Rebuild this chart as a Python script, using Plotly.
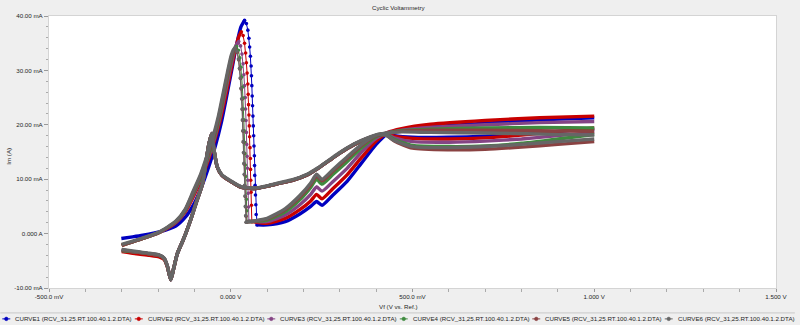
import plotly.graph_objects as go

# ---------------- data ----------------
names = [
    "CURVE1 (RCV_31,25.RT.100.40.1.2.DTA)",
    "CURVE2 (RCV_31,25.RT.100.40.1.2.DTA)",
    "CURVE3 (RCV_31,25.RT.100.40.1.2.DTA)",
    "CURVE4 (RCV_31,25.RT.100.40.1.2.DTA)",
    "CURVE5 (RCV_31,25.RT.100.40.1.2.DTA)",
    "CURVE6 (RCV_31,25.RT.100.40.1.2.DTA)",
]
colors = ["#0000C0", "#C80000", "#844484", "#3F8A3F", "#8A4242", "#666666"]

x_tickvals = [-0.5, 0.0, 0.5, 1.0, 1.5]
x_ticktext = ["-500.0 mV", "0.000 V", "500.0 mV", "1.000 V", "1.500 V"]
y_tickvals = [-10, 0, 10, 20, 30, 40]
y_ticktext = ["-10.00 mA", "0.000 A", "10.00 mA", "20.00 mA", "30.00 mA", "40.00 mA"]

# forward scan, rising to the active peak (V, mA)
rise_v = [
    [-0.301, -0.270, -0.242, -0.197, -0.151, -0.125, -0.100, -0.078, -0.060, -0.042, -0.026, -0.012, 0.003, 0.017, 0.028, 0.038],
    [-0.300, -0.270, -0.242, -0.197, -0.151, -0.125, -0.100, -0.080, -0.062, -0.045, -0.030, -0.015, 0.000, 0.012, 0.022, 0.029],
    [-0.300, -0.270, -0.242, -0.197, -0.151, -0.125, -0.101, -0.080, -0.062, -0.045, -0.031, -0.017, -0.004, 0.008, 0.016, 0.022],
    [-0.300, -0.270, -0.242, -0.197, -0.151, -0.125, -0.102, -0.081, -0.063, -0.046, -0.032, -0.019, -0.007, 0.004, 0.011, 0.016],
    [-0.300, -0.270, -0.242, -0.197, -0.151, -0.125, -0.103, -0.082, -0.064, -0.047, -0.033, -0.020, -0.008, 0.002, 0.008, 0.013],
    [-0.300, -0.270, -0.242, -0.197, -0.151, -0.125, -0.104, -0.083, -0.065, -0.048, -0.034, -0.021, -0.009, 0.001, 0.007, 0.012],
]
rise_i = [
    [-0.9, -0.6, -0.3, 0.3, 1.4, 3.0, 5.6, 9.0, 12.4, 16.2, 20.4, 25.0, 30.2, 35.0, 38.0, 39.2],
    [-2.2, -1.5, -0.9, 0.2, 2.0, 4.0, 7.2, 10.2, 13.4, 17.0, 20.6, 25.0, 29.8, 33.6, 36.2, 37.1],
    [-2.1, -1.5, -0.9, 0.2, 2.1, 4.2, 7.4, 10.5, 13.8, 17.4, 21.0, 25.3, 29.5, 33.0, 34.8, 35.3],
    [-2.1, -1.5, -0.9, 0.2, 2.2, 4.3, 7.5, 10.6, 14.0, 17.6, 21.2, 25.4, 29.4, 32.6, 34.0, 34.4],
    [-2.1, -1.5, -0.9, 0.2, 2.2, 4.4, 7.6, 10.8, 14.2, 17.8, 21.4, 25.6, 29.5, 32.5, 33.6, 34.0],
    [-2.0, -1.4, -0.8, 0.3, 2.3, 4.5, 7.7, 10.9, 14.4, 18.0, 21.6, 25.8, 29.7, 32.7, 33.8, 34.2],
]

# passivation drop (sparse, dotted samples)
drop_v = [
    [0.038, 0.043, 0.047, 0.050, 0.052, 0.054, 0.056, 0.057, 0.058, 0.059, 0.060, 0.061, 0.062, 0.063, 0.064, 0.065, 0.0655, 0.066, 0.067, 0.068, 0.069, 0.070, 0.072],
    [0.029, 0.034, 0.038, 0.041, 0.043, 0.045, 0.047, 0.048, 0.049, 0.050, 0.051, 0.052, 0.053, 0.054, 0.0545, 0.055, 0.056, 0.057, 0.058],
    [0.022, 0.027, 0.031, 0.034, 0.036, 0.038, 0.040, 0.041, 0.042, 0.043, 0.044, 0.045, 0.046, 0.047, 0.048, 0.049, 0.050],
    [0.016, 0.021, 0.025, 0.028, 0.030, 0.032, 0.034, 0.035, 0.036, 0.037, 0.038, 0.039, 0.040, 0.041, 0.042, 0.043, 0.044, 0.045],
    [0.013, 0.018, 0.022, 0.025, 0.027, 0.029, 0.031, 0.032, 0.033, 0.034, 0.035, 0.036, 0.037, 0.038, 0.039, 0.040, 0.041, 0.042, 0.043],
    [0.012, 0.017, 0.021, 0.024, 0.026, 0.028, 0.030, 0.031, 0.032, 0.033, 0.034, 0.035, 0.036, 0.037, 0.038, 0.039, 0.040, 0.041, 0.042],
]
drop_i = [
    [39.2, 38.6, 37.4, 35.9, 34.3, 32.6, 30.8, 29.0, 27.2, 25.3, 23.5, 21.6, 19.8, 18.0, 16.1, 14.3, 12.5, 10.7, 8.9, 7.1, 5.3, 3.5, 1.6],
    [37.1, 36.4, 35.0, 33.2, 31.4, 29.5, 27.5, 25.6, 23.7, 21.8, 19.8, 17.8, 15.8, 13.8, 11.8, 9.8, 7.6, 5.2, 2.2],
    [35.3, 34.5, 33.0, 31.2, 29.2, 27.2, 25.0, 22.9, 20.8, 18.6, 16.4, 14.2, 12.0, 9.8, 7.4, 4.9, 2.3],
    [34.4, 33.7, 32.3, 30.6, 28.8, 26.9, 24.9, 22.9, 20.9, 18.9, 16.8, 14.7, 12.6, 10.5, 8.4, 6.3, 4.2, 2.2],
    [34.0, 33.3, 31.9, 30.2, 28.5, 26.6, 24.7, 22.8, 20.8, 18.8, 16.8, 14.8, 12.8, 10.8, 8.8, 6.8, 4.9, 3.2, 2.1],
    [34.2, 33.5, 32.1, 30.4, 28.6, 26.7, 24.8, 22.9, 20.9, 18.9, 16.9, 14.9, 12.9, 10.9, 8.9, 6.9, 5.0, 3.3, 2.1],
]

# forward scan after passivation, up to the crossing point
fwd_v = [0.10, 0.15, 0.19, 0.22, 0.236, 0.251, 0.28, 0.32, 0.36, 0.40, 0.432]
fwd_i = [
    [1.6, 2.2, 3.6, 5.0, 5.9, 5.2, 7.0, 9.6, 13.0, 16.4, 18.4],
    [1.9, 2.8, 4.4, 6.0, 7.2, 6.4, 8.2, 10.8, 14.0, 17.0, 18.6],
    [2.2, 3.4, 5.3, 7.2, 8.6, 7.8, 9.5, 12.0, 15.0, 17.5, 18.6],
    [2.5, 4.0, 6.2, 8.5, 10.0, 9.1, 10.8, 13.2, 15.8, 17.8, 18.5],
    [2.7, 4.4, 6.7, 9.0, 10.6, 9.7, 11.4, 13.8, 16.2, 18.0, 18.5],
    [2.8, 4.6, 7.0, 9.3, 10.9, 10.0, 11.7, 14.1, 16.4, 18.1, 18.5],
]

# passive region, forward branch (ends at the vertex, 1.0 V)
pas_fwd_v = [0.47, 0.55, 0.70, 0.85, 1.00]
pas_fwd_i = [
    [19.0, 19.6, 20.3, 20.9, 21.3],
    [19.3, 20.1, 20.8, 21.3, 21.6],
    [19.0, 19.5, 20.0, 20.4, 20.6],
    [18.9, 19.2, 19.4, 19.5, 19.4],
    [18.8, 19.0, 19.0, 18.9, 18.8],
    [18.7, 18.6, 18.5, 18.3, 18.1],
]

# passive region, reverse branch (starts at the vertex, 1.0 V)
pas_rev_v = [1.00, 0.90, 0.80, 0.70, 0.60, 0.50, 0.45, 0.43]
pas_rev_i = [
    [19.2, 18.8, 18.3, 17.9, 17.7, 17.7, 18.0, 18.3],
    [19.4, 18.8, 18.1, 17.6, 17.4, 17.5, 17.9, 18.3],
    [18.6, 18.0, 17.4, 17.0, 16.8, 16.9, 17.6, 18.2],
    [18.2, 17.4, 16.6, 16.1, 16.0, 16.2, 17.3, 18.1],
    [16.9, 16.4, 15.9, 15.5, 15.4, 15.7, 17.0, 18.0],
    [17.4, 16.9, 16.4, 16.0, 15.8, 16.0, 17.1, 18.0],
]

# reverse scan back to the start potential (curves overlap here)
rev_v = [0.41, 0.38, 0.34, 0.30, 0.27, 0.24, 0.21, 0.17, 0.13, 0.10, 0.068, 0.03, 0.00,
         -0.024, -0.037, -0.046, -0.052, -0.060, -0.069, -0.078, -0.096, -0.110, -0.124,
         -0.133, -0.147, -0.156, -0.165, -0.174, -0.183, -0.197, -0.224, -0.260, -0.300]
rev_i = [
    [18.2, 17.6, 16.4, 14.8, 13.4, 12.0, 10.8, 9.8, 9.2, 8.7, 8.3, 8.5, 9.6, 10.7, 12.2, 15.3, 18.4, 16.5, 12.8, 9.1, 5.5, 2.6, 0.0, -1.5, -3.7, -6.1, -8.5, -6.1, -4.6, -4.0, -3.7, -3.4, -3.0],
    [18.2, 17.6, 16.4, 14.8, 13.4, 12.0, 10.8, 9.8, 9.2, 8.7, 8.3, 8.5, 9.6, 10.7, 12.2, 15.3, 18.4, 16.5, 12.8, 9.1, 5.5, 2.6, 0.0, -1.5, -3.7, -6.1, -8.5, -6.2, -4.8, -4.3, -4.0, -3.7, -3.3],
    [18.2, 17.6, 16.4, 14.8, 13.4, 12.0, 10.8, 9.8, 9.2, 8.7, 8.3, 8.5, 9.6, 10.7, 12.2, 15.3, 18.4, 16.5, 12.8, 9.1, 5.5, 2.6, 0.0, -1.5, -3.7, -6.1, -8.5, -6.1, -4.6, -4.0, -3.7, -3.4, -3.1],
    [18.2, 17.6, 16.4, 14.8, 13.4, 12.0, 10.8, 9.8, 9.2, 8.7, 8.3, 8.5, 9.6, 10.7, 12.2, 15.3, 18.4, 16.5, 12.8, 9.1, 5.5, 2.6, 0.0, -1.5, -3.7, -6.1, -8.5, -6.1, -4.6, -4.0, -3.7, -3.4, -3.1],
    [18.2, 17.6, 16.4, 14.8, 13.4, 12.0, 10.8, 9.8, 9.2, 8.7, 8.3, 8.5, 9.6, 10.7, 12.2, 15.3, 18.4, 16.5, 12.8, 9.1, 5.5, 2.6, 0.0, -1.5, -3.7, -6.1, -8.5, -6.1, -4.6, -4.0, -3.7, -3.4, -3.0],
    [18.3, 17.7, 16.5, 14.9, 13.5, 12.1, 10.9, 9.9, 9.3, 8.8, 8.4, 8.6, 9.7, 10.8, 12.3, 15.4, 18.4, 16.5, 12.8, 9.1, 5.5, 2.6, 0.0, -1.5, -3.7, -6.1, -8.5, -6.0, -4.5, -3.9, -3.6, -3.3, -2.9],
]

# ---------------- layout geometry (pixels) ----------------
W, H = 800, 325
PL, PR, PT, PB = 49, 781, 15, 288   # plot area edges


def pxx(p):
    return (p - PL) / (PR - PL)


def pxy(p):
    return (PB - p) / (PB - PT)


FONT = "Liberation Sans, Arial, sans-serif"
TXT = "#262626"
FS = 6.2

fig = go.Figure()


def add_line(xs, ys, k):
    fig.add_trace(go.Scatter(
        x=xs, y=ys, mode="lines", name=names[k], legendgroup=names[k],
        showlegend=False, hoverinfo="skip",
        line=dict(color=colors[k], width=3.4, shape="spline", smoothing=0.6)))


for k in range(6):
    c = colors[k]
    add_line(rise_v[k], rise_i[k], k)
    fig.add_trace(go.Scatter(
        x=drop_v[k], y=drop_i[k], mode="lines+markers", name=names[k], legendgroup=names[k],
        showlegend=False, hoverinfo="skip",
        line=dict(color=c, width=1), marker=dict(color=c, size=3.6)))
    add_line([drop_v[k][-1]] + fwd_v + pas_fwd_v,
             [drop_i[k][-1]] + fwd_i[k] + pas_fwd_i[k], k)
    add_line(pas_rev_v + rev_v, pas_rev_i[k] + rev_i[k], k)

shapes = []
annotations = []

# legend separator
shapes.append(dict(type="line", xref="paper", yref="paper",
                   x0=pxx(0), x1=pxx(W), y0=pxy(313), y1=pxy(313),
                   line=dict(color="#c8c8c8", width=1)))
# legend entries
LEG_Y = 319
for k in range(6):
    cx = 6 + 133.4 * k
    shapes.append(dict(type="line", xref="paper", yref="paper",
                       x0=pxx(cx - 4), x1=pxx(cx + 4), y0=pxy(LEG_Y), y1=pxy(LEG_Y),
                       line=dict(color=colors[k], width=1)))
    shapes.append(dict(type="circle", xref="paper", yref="paper",
                       x0=pxx(cx - 1.8), x1=pxx(cx + 1.8), y0=pxy(LEG_Y + 1.8), y1=pxy(LEG_Y - 1.8),
                       fillcolor=colors[k], line=dict(color=colors[k], width=0.5)))
    annotations.append(dict(text=names[k], xref="paper", yref="paper",
                            x=pxx(cx + 7), y=pxy(LEG_Y), xanchor="left", yanchor="middle",
                            showarrow=False, font=dict(family=FONT, size=FS, color=TXT)))

# title and axis titles
annotations.append(dict(text="Cyclic Voltammetry", xref="paper", yref="paper",
                        x=pxx(401), y=pxy(6.5), xanchor="center", yanchor="middle",
                        showarrow=False, font=dict(family=FONT, size=FS, color=TXT)))
annotations.append(dict(text="Vf (V vs. Ref.)", xref="paper", yref="paper",
                        x=pxx(401), y=pxy(307), xanchor="center", yanchor="middle",
                        showarrow=False, font=dict(family=FONT, size=FS, color=TXT)))
annotations.append(dict(text="Im (A)", xref="paper", yref="paper", textangle=-90,
                        x=pxx(8), y=pxy(156), xanchor="center", yanchor="middle",
                        showarrow=False, font=dict(family=FONT, size=FS, color=TXT)))

fig.update_layout(
    width=W, height=H,
    margin=dict(l=PL, r=W - PR, t=PT, b=H - PB, pad=0),
    paper_bgcolor="#efefef", plot_bgcolor="#ffffff",
    showlegend=False,
    font=dict(family=FONT, size=FS, color=TXT),
    shapes=shapes, annotations=annotations,
    xaxis=dict(range=[-0.5, 1.5], tickmode="array", tickvals=x_tickvals, ticktext=x_ticktext,
               ticks="outside", ticklen=3, tickcolor="#999999", tickwidth=1,
               minor=dict(tickmode="linear", tick0=-0.5, dtick=0.1, ticks="outside",
                          ticklen=3, tickcolor="#aaaaaa", showgrid=False),
               showgrid=False, zeroline=False, showline=True, linecolor="#d4d4d4", mirror=True,
               tickfont=dict(family=FONT, size=FS, color=TXT)),
    yaxis=dict(range=[-10, 40], tickmode="array", tickvals=y_tickvals, ticktext=y_ticktext,
               ticks="outside", ticklen=4, tickcolor="#999999", tickwidth=1,
               minor=dict(tickmode="linear", tick0=0, dtick=2, ticks="outside",
                          ticklen=2, tickcolor="#aaaaaa", showgrid=False),
               showgrid=False, zeroline=False, showline=True, linecolor="#d4d4d4", mirror=True,
               tickfont=dict(family=FONT, size=FS, color=TXT)),
)

fig.write_html("out.html")
